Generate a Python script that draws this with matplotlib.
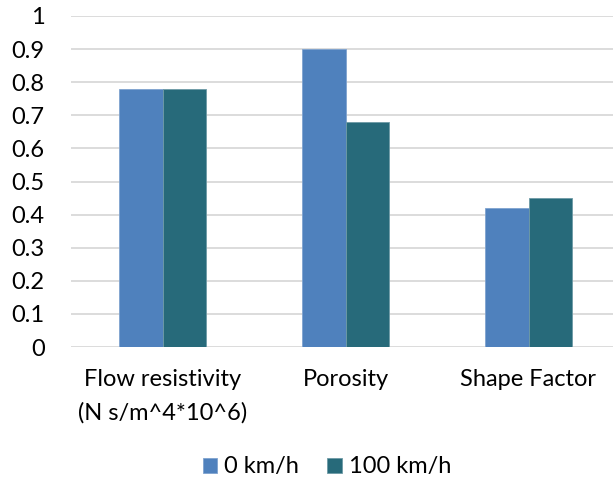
import numpy as np
import matplotlib.pyplot as plt

# Données
categories = ["Flow resistivity\n(N s/m^4*10^6)", "Porosity", "Shape Factor"]
series_names = ["0 km/h", "100 km/h"]
vals_0 = [0.78, 0.90, 0.42]
vals_100 = [0.78, 0.68, 0.45]
y_ticks = [0, 0.1, 0.2, 0.3, 0.4, 0.5, 0.6, 0.7, 0.8, 0.9, 1]
y_tick_labels = ["0", "0.1", "0.2", "0.3", "0.4", "0.5", "0.6", "0.7", "0.8", "0.9", "1"]

plt.rcParams['font.family'] = ['Lato', 'DejaVu Sans']
FS = 17

fig = plt.figure(figsize=(6.13, 4.88), dpi=100)
ax = fig.add_axes([71 / 613, 1 - 347 / 488, (613 - 71) / 613, (347 - 16) / 488])

x = np.arange(len(categories))
w = 0.24
ax.bar(x - w / 2, vals_0, w, color='#4F81BD', edgecolor='#7FA3CF', linewidth=0.6,
       label=series_names[0], zorder=3)
ax.bar(x + w / 2, vals_100, w, color='#276A7A', edgecolor='#6E9AA6', linewidth=0.6,
       label=series_names[1], zorder=3)

ax.set_xlim(-0.5, (613 - 71) / 183 - 0.5)
ax.set_ylim(0, 1)
ax.set_yticks(y_ticks)
ax.set_yticklabels(y_tick_labels)
ax.set_xticks(x)
ax.set_xticklabels(categories, linespacing=1.7)

ax.grid(axis='y', color='#D9D9D9', linewidth=1.3, zorder=0)
for s in ax.spines.values():
    s.set_visible(False)
ax.tick_params(axis='both', length=0, labelsize=FS, colors='black')
ax.tick_params(axis='y', pad=19)
ax.tick_params(axis='x', pad=16)

ax.legend(loc='center', bbox_to_anchor=(327 / 613, 1 - 467 / 488),
          bbox_transform=fig.transFigure, ncol=2, frameon=False, fontsize=FS,
          handlelength=0.6, handleheight=0.6, handletextpad=0.3, columnspacing=1.2)

plt.savefig("out.png", dpi=100)
